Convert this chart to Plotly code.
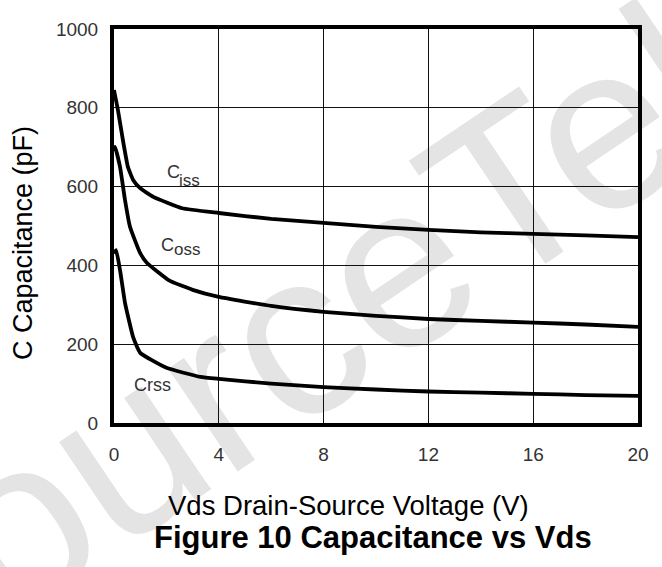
import plotly.graph_objects as go

# ---- data ----
ciss_v = [0, 0.15, 0.34, 0.53, 0.73, 1.0, 1.5, 2.6, 4.0, 6, 8, 10, 12, 14, 16, 18, 20]
ciss_c = [845, 794, 718, 650, 617, 596, 574, 545, 533, 518, 508, 498, 490, 484, 480, 476, 472]

coss_v = [0, 0.04, 0.23, 0.42, 0.61, 1.0, 1.26, 2.1, 3.0, 4.0, 6, 8, 10, 12, 14, 16, 18, 20]
coss_c = [690, 701, 650, 566, 498, 431, 406, 362, 338, 320, 297, 282, 272, 264, 259, 255, 250, 244]

crss_v = [0, 0.08, 0.23, 0.42, 0.73, 1.0, 2.0, 3.3, 4.0, 6, 8, 10, 12, 14, 16, 18, 20]
crss_c = [430, 439, 388, 305, 218, 178, 140, 117, 112, 100, 91, 85, 80, 77, 74, 71, 69]

x_ticks = [0, 4, 8, 12, 16, 20]
y_ticks = [0, 200, 400, 600, 800, 1000]

# series labels: main letter + subscript text (subscript drawn at full size, lowered)
label_main = ["C", "C", "Crss"]
label_sub = ["iss", "oss", ""]

x_title = "Vds Drain-Source Voltage (V)"
y_title = "C Capacitance (pF)"
fig_title = "<b>Figure 10 Capacitance vs Vds</b>"
watermark = "SourceTek"

FONT = "Liberation Sans, Arial, Helvetica, sans-serif"

fig = go.Figure()
for v, c in [(ciss_v, ciss_c), (coss_v, coss_c), (crss_v, crss_c)]:
    fig.add_trace(go.Scatter(x=v, y=c, mode="lines",
                             line=dict(color="black", width=3.8, shape="spline", smoothing=0.4),
                             showlegend=False, hoverinfo="skip"))

W, H = 662, 567
L, R, T, B = 114, 24, 29, 144
pw, ph = W - L - R, H - T - B

def px(x):
    return (x - L) / pw

def py(y):
    return (H - B - y) / ph

# light-grey diagonal watermark behind everything
wx, wy = 280, 318
fig.add_shape(type="rect", xref="paper", yref="paper",
              x0=px(wx - 20), x1=px(wx + 20), y0=py(wy + 20), y1=py(wy - 20),
              line=dict(width=0), fillcolor="rgba(0,0,0,0)", layer="below",
              label=dict(text=watermark, textangle=-34, textposition="middle center",
                         font=dict(family=FONT, size=235, color="#e4e4e4")))

annotations = []
# label placement in pixels: (left x of main, center y of main, left x of sub, center y of sub)
label_px = [(165, 172, 177, 180), (159, 245, 172, 250), (132, 385, 0, 0)]
for main, sub, (mx, my, sx, sy) in zip(label_main, label_sub, label_px):
    annotations.append(dict(x=px(mx), y=py(my), xref="paper", yref="paper", text=main,
                            showarrow=False, xanchor="left", yanchor="middle",
                            font=dict(family=FONT, size=18, color="#333333")))
    if sub:
        annotations.append(dict(x=px(sx), y=py(sy), xref="paper", yref="paper", text=sub,
                                showarrow=False, xanchor="left", yanchor="middle",
                                font=dict(family=FONT, size=17, color="#333333")))

annotations.append(dict(x=px(348), y=py(505), xref="paper", yref="paper", text=x_title,
                        showarrow=False, font=dict(family=FONT, size=27.5, color="black"),
                        xanchor="center", yanchor="middle"))
annotations.append(dict(x=px(373), y=py(537), xref="paper", yref="paper", text=fig_title,
                        showarrow=False, font=dict(family=FONT, size=31, color="black"),
                        xanchor="center", yanchor="middle"))
annotations.append(dict(x=px(23), y=py(243), xref="paper", yref="paper", text=y_title,
                        showarrow=False, textangle=-90,
                        font=dict(family=FONT, size=27, color="black"),
                        xanchor="center", yanchor="middle"))

fig.update_layout(
    width=W, height=H,
    margin=dict(l=L, r=R, t=T, b=B, pad=0, autoexpand=False),
    paper_bgcolor="white", plot_bgcolor="rgba(0,0,0,0)",
    annotations=annotations,
    font=dict(family=FONT),
)
fig.update_xaxes(range=[0, 20], tickvals=x_ticks, ticktext=[str(t) for t in x_ticks],
                 showgrid=True, gridcolor="#111111", gridwidth=1,
                 showline=True, linecolor="black", linewidth=4, mirror=True,
                 ticks="", zeroline=False, ticklabelstandoff=11, automargin=False,
                 tickfont=dict(family=FONT, size=19, color="#333333"))
fig.update_yaxes(range=[0, 1000], tickvals=y_ticks, ticktext=[str(t) for t in y_ticks],
                 showgrid=True, gridcolor="#111111", gridwidth=1,
                 showline=True, linecolor="black", linewidth=4, mirror=True,
                 ticks="", zeroline=False, ticklabelstandoff=8, automargin=False,
                 tickfont=dict(family=FONT, size=19, color="#333333"))

fig.write_html("out.html", config={"displayModeBar": False, "staticPlot": True},
               post_script="document.body.style.margin='0px';document.body.style.overflow='hidden';")
